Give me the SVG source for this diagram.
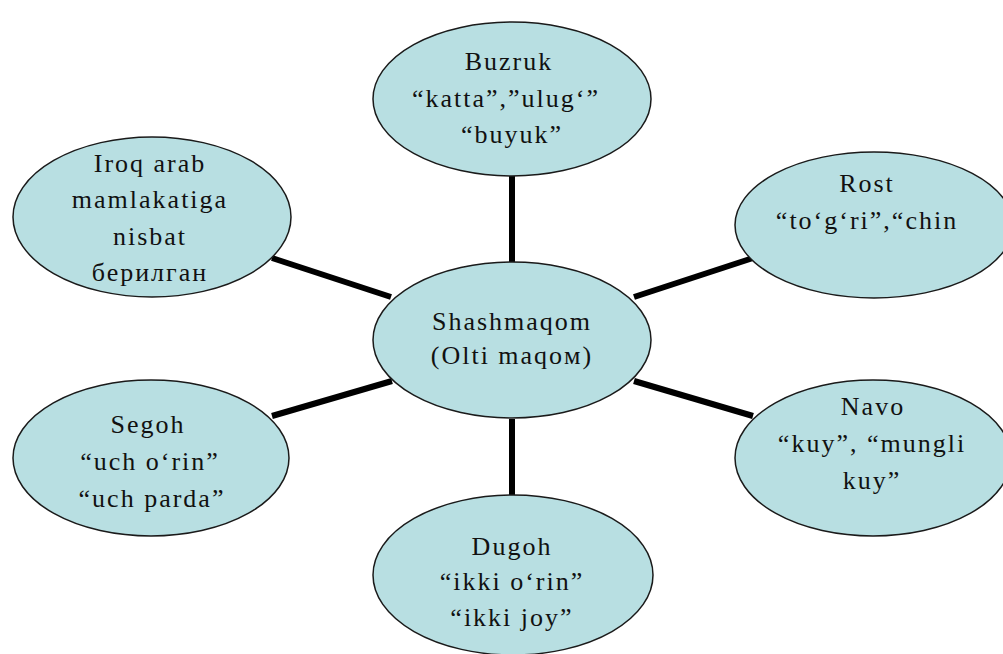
<svg xmlns="http://www.w3.org/2000/svg" width="1003" height="654" viewBox="0 0 1003 654">
<style>
.n{fill:#b8dfe2;stroke:#1a1a1a;stroke-width:1.5}
.t{font-size:26px;letter-spacing:2px;fill:#111;text-anchor:middle}
.c{stroke:#000;stroke-width:6;stroke-linecap:butt;fill:none}
</style>
<rect width="1003" height="654" fill="#fff"/>
<g id="connectors">
<line class="c" x1="512" y1="176" x2="512" y2="262"/>
<line class="c" x1="512" y1="419" x2="512" y2="496"/>
<line class="c" x1="272" y1="258" x2="391" y2="297"/>
<line class="c" x1="753" y1="258" x2="634" y2="297"/>
<line class="c" x1="272" y1="416" x2="392" y2="381"/>
<line class="c" x1="753" y1="416" x2="634" y2="381"/>
</g>
<g font-family="'Liberation Serif', 'Times New Roman', serif">
<g id="node-center">
<ellipse class="n" cx="512" cy="340" rx="139" ry="78"/>
<text class="t" x="512" y="330">Shashmaqom</text>
<text class="t" x="512" y="364">(Olti maqoм)</text>
</g>
<g id="node-buzruk">
<ellipse class="n" cx="512" cy="99" rx="139" ry="77"/>
<text class="t" x="509" y="70">Buzruk</text>
<text class="t" x="506" y="107">“katta”,”ulug‘”</text>
<text class="t" x="512" y="143">“buyuk”</text>
</g>
<g id="node-iroq">
<ellipse class="n" cx="152" cy="217" rx="139" ry="80"/>
<text class="t" x="150" y="172">Iroq arab</text>
<text class="t" x="150" y="208">mamlakatiga</text>
<text class="t" x="150" y="245">nisbat</text>
<text class="t" x="150" y="281">берилган</text>
</g>
<g id="node-rost">
<ellipse class="n" cx="874" cy="225" rx="139" ry="73"/>
<text class="t" x="867" y="192">Rost</text>
<text class="t" x="867" y="229">“to‘g‘ri”,“chin</text>
</g>
<g id="node-segoh">
<ellipse class="n" cx="151" cy="458" rx="138" ry="78"/>
<text class="t" x="148" y="433">Segoh</text>
<text class="t" x="150" y="470">“uch o‘rin”</text>
<text class="t" x="152" y="507">“uch parda”</text>
</g>
<g id="node-navo">
<ellipse class="n" cx="873" cy="458" rx="138" ry="78"/>
<text class="t" x="873" y="415">Navo</text>
<text class="t" x="872" y="452">“kuy”, “mungli</text>
<text class="t" x="872" y="489">kuy”</text>
</g>
<g id="node-dugoh">
<ellipse class="n" cx="513" cy="575" rx="140" ry="80"/>
<text class="t" x="512" y="555">Dugoh</text>
<text class="t" x="512" y="590">“ikki o‘rin”</text>
<text class="t" x="512" y="626">“ikki joy”</text>
</g>
</g>
</svg>
